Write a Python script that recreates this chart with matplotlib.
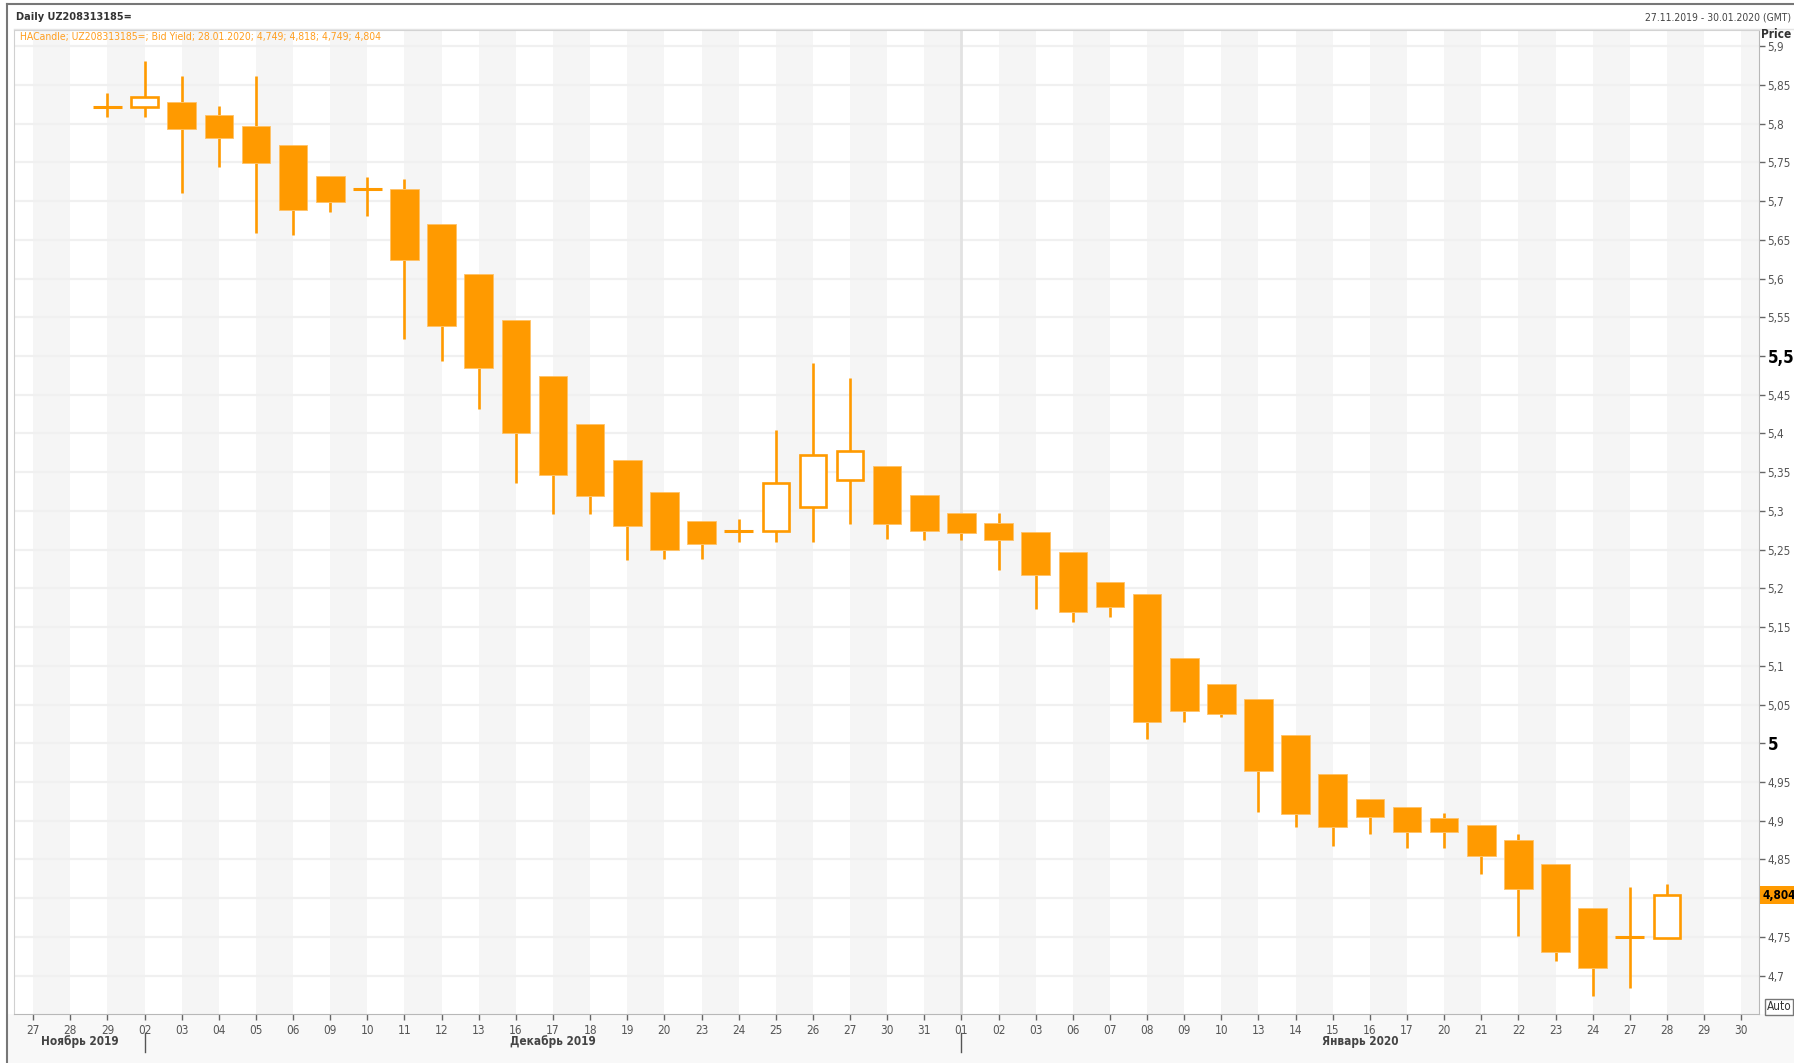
import numpy as np
import matplotlib.pyplot as plt
from matplotlib import font_manager
from matplotlib.patches import Rectangle
from matplotlib.lines import Line2D
from matplotlib.transforms import blended_transform_factory

# --- data -------------------------------------------------------------
day_labels = ['27', '28', '29',
              '02', '03', '04', '05', '06', '09', '10', '11', '12', '13', '16', '17', '18', '19', '20',
              '23', '24', '25', '26', '27', '30', '31',
              '01', '02', '03', '06', '07', '08', '09', '10', '13', '14', '15', '16', '17', '20', '21',
              '22', '23', '24', '27', '28', '29', '30']
months = ['Ноябрь 2019', 'Декабрь 2019', 'Январь 2020']
month_starts = [-0.5, 3, 25]          # index of first day of each month on the axis

first_candle = 2                       # 29.11.2019
ha_open = [5.821, 5.821, 5.8275, 5.811, 5.797, 5.772, 5.732, 5.715, 5.715, 5.670,
           5.6055, 5.5465, 5.474, 5.412, 5.366, 5.324, 5.2866, 5.2745, 5.2745, 5.3055,
           5.340, 5.358, 5.321, 5.2977, 5.2848, 5.2732, 5.2466, 5.2086, 5.1927, 5.1105,
           5.076, 5.057, 5.011, 4.9604, 4.9277, 4.9174, 4.9032, 4.8941, 4.8756, 4.8438,
           4.7874, 4.750, 4.749]
ha_high = [5.839, 5.881, 5.861, 5.823, 5.861, 5.772, 5.732, 5.731, 5.728, 5.670,
           5.6055, 5.5465, 5.474, 5.412, 5.366, 5.324, 5.2866, 5.2896, 5.405, 5.491,
           5.471, 5.358, 5.321, 5.2977, 5.2977, 5.2732, 5.2466, 5.2086, 5.1927, 5.1105,
           5.076, 5.057, 5.011, 4.9604, 4.9277, 4.9174, 4.9096, 4.8941, 4.883, 4.8438,
           4.7874, 4.815, 4.818]
ha_low = [5.809, 5.809, 5.711, 5.744, 5.659, 5.656, 5.686, 5.681, 5.522, 5.494,
          5.432, 5.336, 5.296, 5.296, 5.236, 5.238, 5.238, 5.2595, 5.2595, 5.2595,
          5.2835, 5.2637, 5.2625, 5.2625, 5.2237, 5.174, 5.157, 5.1627, 5.0055, 5.027,
          5.0343, 4.9117, 4.8916, 4.867, 4.883, 4.8644, 4.8644, 4.8313, 4.7516, 4.7186,
          4.6738, 4.6837, 4.749]
ha_close = [5.821, 5.834, 5.793, 5.782, 5.749, 5.689, 5.699, 5.715, 5.624, 5.539,
            5.484, 5.401, 5.347, 5.319, 5.281, 5.2495, 5.257, 5.2745, 5.336, 5.372,
            5.378, 5.2835, 5.2735, 5.271, 5.2625, 5.2177, 5.170, 5.1755, 5.027, 5.0417,
            5.0374, 4.964, 4.9087, 4.8916, 4.9045, 4.886, 4.886, 4.8545, 4.8123, 4.730,
            4.710, 4.750, 4.804]
last_value = 4.804

# --- style ------------------------------------------------------------
W, H = 1794, 1063
ORANGE = '#FF9A00'
names = {f.name for f in font_manager.fontManager.ttflist}
FONT = ['Liberation Sans Narrow', 'DejaVu Sans'] if 'Liberation Sans Narrow' in names else ['DejaVu Sans']
plt.rcParams['font.family'] = FONT
plt.rcParams['font.stretch'] = 'condensed'

def fx(x):
    return x / W

def fy(y):
    return 1 - y / H

fig = plt.figure(figsize=(W / 100, H / 100), dpi=100)
fig.patch.set_facecolor('white')

plot_l, plot_r, plot_t, plot_b = 14, 1759, 30, 1014
ax = fig.add_axes([fx(plot_l), fy(plot_b), fx(plot_r - plot_l), (plot_b - plot_t) / H])

# grey area below the chart
fig.patches.append(Rectangle((fx(8), 0), fx(W - 8), fy(plot_b), transform=fig.transFigure,
                             facecolor='#F8F8F8', edgecolor='none', zorder=-5))

n_days = len(day_labels)
ax.set_xlim(-0.517, n_days - 0.52)
ax.set_ylim(4.6505, 5.9209)

# alternating day bands, horizontal grid, year separator
for k in range(0, n_days, 2):
    ax.axvspan(k, k + 1, color='#F5F5F5', lw=0, zorder=0)
yt = np.round(np.arange(4.70, 5.901, 0.05), 2)
for v in yt:
    ax.axhline(v, color='#F0F0F0', lw=1.6, zorder=0.5)
ax.axvline(25, color='#E2E2E2', lw=2, zorder=0.6)

# --- Heikin-Ashi candles ----------------------------------------------
width = 0.77
lw = 1.9
for j in range(len(ha_open)):
    i = first_candle + j
    o, h, l, c = ha_open[j], ha_high[j], ha_low[j], ha_close[j]
    top, bot = max(o, c), min(o, c)
    if h > top:
        ax.vlines(i, top, h, color=ORANGE, lw=lw, zorder=2)
    if l < bot:
        ax.vlines(i, l, bot, color=ORANGE, lw=lw, zorder=2)
    if abs(c - o) < 0.002:
        ax.hlines(o, i - width / 2, i + width / 2, color=ORANGE, lw=lw + 0.3, zorder=3)
    elif c < o:
        ax.add_patch(Rectangle((i - width / 2, bot), width, top - bot, facecolor=ORANGE,
                               edgecolor='#FFC266', lw=0.6, zorder=3))
    else:
        ax.add_patch(Rectangle((i - width / 2 + 0.03, bot), width - 0.06, top - bot, facecolor='white',
                               edgecolor=ORANGE, lw=lw, zorder=3))

# --- axes -------------------------------------------------------------
ax.set_xticks(range(n_days))
ax.set_xticklabels(day_labels, fontsize=8.5, color='#555555')
ax.tick_params(axis='x', length=4, width=1, color='#666666', pad=3)

ax.yaxis.tick_right()
ax.set_yticks(yt)
# 4,8 is hidden behind the last-value marker
ax.set_yticklabels(['' if abs(v - 4.8) < 1e-9 else f'{v:g}'.replace('.', ',') for v in yt],
                   fontsize=8.5, color='#555555')
ax.tick_params(axis='y', length=4, width=1, color='#666666', pad=2)
for lab, v in zip(ax.get_yticklabels(), yt):
    if v in (5.0, 5.5):
        lab.set_fontsize(12)
        lab.set_fontweight('bold')
        lab.set_color('black')

for s in ['top', 'left']:
    ax.spines[s].set_color('#D0D0D0')
for s in ['bottom', 'right']:
    ax.spines[s].set_color('#B8B8B8')

# month labels and separators
bounds = month_starts + [n_days - 0.52]
for m, a, b in zip(months, bounds[:-1], bounds[1:]):
    fig.text(fx(ax.transData.transform(((a + b) / 2, 0))[0]), fy(1042), m, ha='center', va='center',
             fontsize=8.5, fontweight='bold', color='#444444')
for s in month_starts[1:]:
    xs = fx(ax.transData.transform((s, 0))[0])
    fig.add_artist(Line2D([xs, xs], [fy(1033), fy(1052)], color='#555555', lw=1))

# last value marker
tr = blended_transform_factory(ax.transAxes, ax.transData)
ax.text(1.002, last_value, f'{last_value:g}'.replace('.', ','), transform=tr, ha='left', va='center',
        fontsize=8.5, fontweight='bold', color='black', zorder=5, clip_on=False,
        bbox=dict(boxstyle='square,pad=0.2', facecolor=ORANGE, edgecolor='none'))

# header texts
fig.text(fx(16), fy(17), 'Daily UZ208313185=', ha='left', va='center', fontsize=7.8,
         fontweight='bold', color='#333333')
fig.text(fx(1791), fy(17), '27.11.2019 - 30.01.2020 (GMT)', ha='right', va='center',
         fontsize=7.5, color='#444444')
fig.text(fx(20), fy(37), 'HACandle; UZ208313185=; Bid Yield; 28.01.2020; 4,749; 4,818; 4,749; 4,804',
         ha='left', va='center', fontsize=7.5, color='#FF9E1F')
fig.text(fx(1791), fy(35), 'Price', ha='right', va='center', fontsize=8.5,
         fontweight='bold', color='#333333')
fig.text(fx(1779), fy(1007), 'Auto', ha='center', va='center', fontsize=8.5, color='#333333',
         bbox=dict(boxstyle='square,pad=0.15', facecolor='white', edgecolor='#777777', lw=1))

# outer frame
fig.add_artist(Line2D([fx(7), fx(W)], [fy(4), fy(4)], color='#777777', lw=1.5))
fig.add_artist(Line2D([fx(7), fx(7)], [fy(4), 0], color='#777777', lw=1.5))
fig.add_artist(Line2D([fx(plot_l), fx(W)], [fy(plot_t - 1), fy(plot_t - 1)], color='#E4E4E4', lw=1))

fig.savefig('out.png', dpi=100)
